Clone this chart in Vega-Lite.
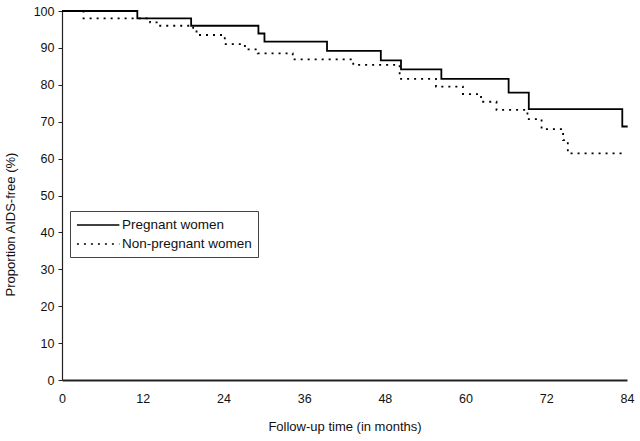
{
  "$schema": "https://vega.github.io/schema/vega-lite/v6.json",
  "width": 565,
  "height": 369,
  "autosize": {"type": "none"},
  "padding": {"left": 62, "top": 11, "right": 13, "bottom": 61},
  "background": "white",
  "config": {
    "view": {"stroke": null},
    "font": "Liberation Sans",
    "axis": {"grid": false, "labelFont": "Liberation Sans", "titleFont": "Liberation Sans", "labelColor": "#111", "titleColor": "#111", "domainColor": "#222", "tickColor": "#222", "labelFontSize": 12.5, "titleFontSize": 13, "titleFontWeight": "normal"},
    "legend": {"labelFont": "Liberation Sans"}
  },
  "data": {
    "values": [
      {"group": "Pregnant women", "month": 0, "p": 100},
      {"group": "Pregnant women", "month": 11.2, "p": 98.0},
      {"group": "Pregnant women", "month": 19.2, "p": 96.0},
      {"group": "Pregnant women", "month": 29.2, "p": 93.9},
      {"group": "Pregnant women", "month": 30.1, "p": 91.7},
      {"group": "Pregnant women", "month": 39.4, "p": 89.2},
      {"group": "Pregnant women", "month": 47.4, "p": 86.6},
      {"group": "Pregnant women", "month": 50.4, "p": 84.2},
      {"group": "Pregnant women", "month": 56.4, "p": 81.6},
      {"group": "Pregnant women", "month": 66.4, "p": 77.9},
      {"group": "Pregnant women", "month": 69.4, "p": 73.4},
      {"group": "Pregnant women", "month": 83.3, "p": 68.7},
      {"group": "Pregnant women", "month": 84.1, "p": 68.7},
      {"group": "Non-pregnant women", "month": 0, "p": 100},
      {"group": "Non-pregnant women", "month": 3.2, "p": 98.0},
      {"group": "Non-pregnant women", "month": 13.1, "p": 96.9},
      {"group": "Non-pregnant women", "month": 14.3, "p": 96.0},
      {"group": "Non-pregnant women", "month": 19.5, "p": 94.9},
      {"group": "Non-pregnant women", "month": 20.0, "p": 93.5},
      {"group": "Non-pregnant women", "month": 24.2, "p": 91.0},
      {"group": "Non-pregnant women", "month": 27.2, "p": 89.6},
      {"group": "Non-pregnant women", "month": 29.1, "p": 88.5},
      {"group": "Non-pregnant women", "month": 34.3, "p": 86.9},
      {"group": "Non-pregnant women", "month": 43.3, "p": 85.4},
      {"group": "Non-pregnant women", "month": 50.2, "p": 81.6},
      {"group": "Non-pregnant women", "month": 55.6, "p": 79.5},
      {"group": "Non-pregnant women", "month": 59.6, "p": 77.5},
      {"group": "Non-pregnant women", "month": 62.3, "p": 75.4},
      {"group": "Non-pregnant women", "month": 64.6, "p": 73.2},
      {"group": "Non-pregnant women", "month": 69.2, "p": 70.7},
      {"group": "Non-pregnant women", "month": 71.3, "p": 68.0},
      {"group": "Non-pregnant women", "month": 74.5, "p": 65.0},
      {"group": "Non-pregnant women", "month": 75.2, "p": 61.4},
      {"group": "Non-pregnant women", "month": 83.4, "p": 61.4}
    ]
  },
  "mark": {"type": "line", "interpolate": "step-after", "color": "black", "strokeWidth": 1.8},
  "encoding": {
    "x": {
      "field": "month", "type": "quantitative",
      "scale": {"domain": [0, 84], "nice": false, "zero": false},
      "axis": {"title": "Follow-up time (in months)", "values": [0, 12, 24, 36, 48, 60, 72, 84], "ticks": false, "tickSize": 0, "labelPadding": 12, "domainWidth": 2, "titlePadding": 16, "labelFlush": false}
    },
    "y": {
      "field": "p", "type": "quantitative",
      "scale": {"domain": [0, 100], "nice": false},
      "axis": {"title": "Proportion AIDS-free (%)", "values": [0, 10, 20, 30, 40, 50, 60, 70, 80, 90, 100], "tickSize": 4, "labelPadding": 4, "domainWidth": 1.2, "titleX": -45, "titleY": 213}
    },
    "strokeDash": {
      "field": "group", "type": "nominal",
      "scale": {"domain": ["Pregnant women", "Non-pregnant women"], "range": [[1, 0], [2, 5]]},
      "legend": {
        "title": null, "orient": "none", "legendX": 8, "legendY": 200,
        "symbolType": "M-1,0H5", "symbolSize": 200, "symbolStrokeWidth": 1.6, "symbolStrokeColor": "black",
        "labelFontSize": 13.5, "labelColor": "#111", "labelOffset": 30,
        "strokeColor": "#444", "padding": 6, "rowPadding": 4, "symbolOffset": 0
      }
    },
    "order": {"field": "month", "type": "quantitative"}
  }
}
